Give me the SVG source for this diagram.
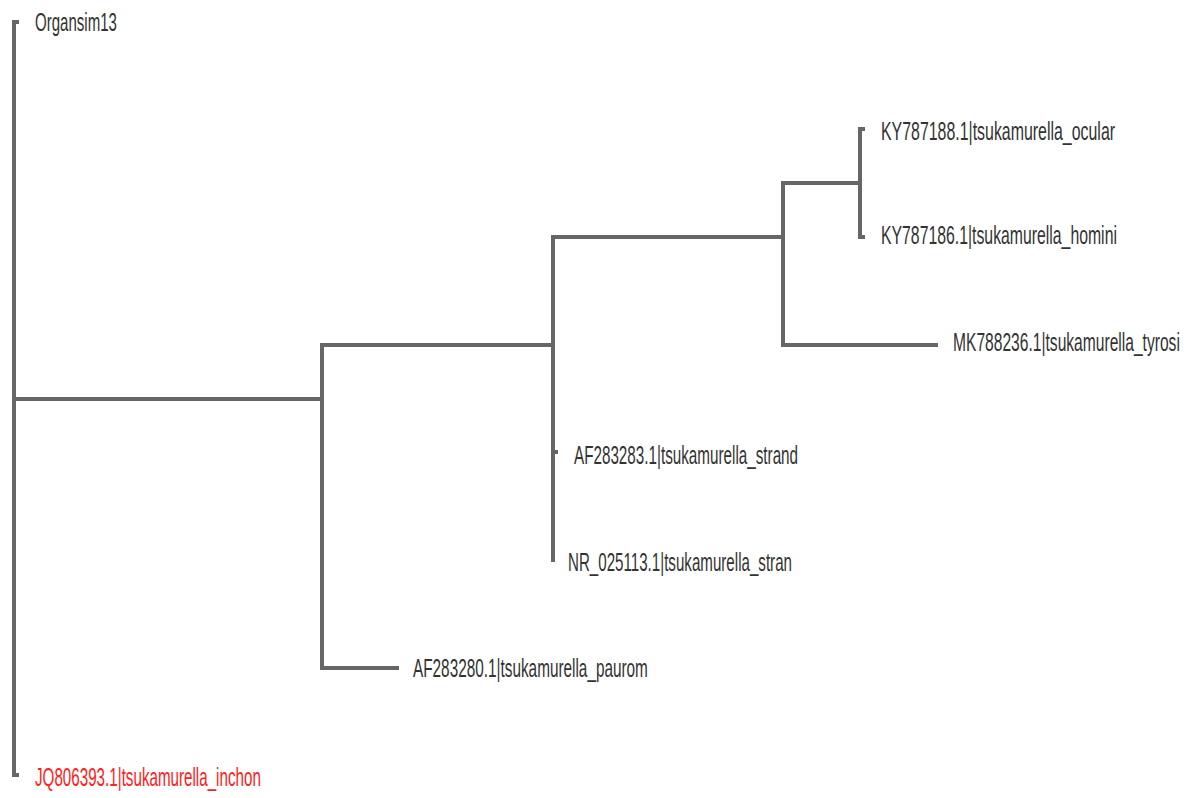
<svg xmlns="http://www.w3.org/2000/svg" width="1202" height="798" viewBox="0 0 1202 798">
<style>
.br{stroke:#666;stroke-width:4;fill:none;stroke-linecap:square}
.lb{font-family:"Liberation Sans",Arial,sans-serif;font-size:26px;fill:#333}
.red{fill:#ff2020}
</style>
<rect width="1202" height="798" fill="#fff"/>
<g id="connectors">
<path class="br" d="M17,22 H14 V775 H17"/>
<path class="br" d="M14,399 H322"/>
<path class="br" d="M322,345 V668 H397"/>
<path class="br" d="M322,345 H553"/>
<path class="br" d="M553,237 V560"/>
<path class="br" d="M553,452 H556"/>
<path class="br" d="M553,237 H783"/>
<path class="br" d="M783,183 V345 H936"/>
<path class="br" d="M783,183 H860"/>
<path class="br" d="M863,129 H860 V237 H863"/>
</g>
<g id="n-organsim13"><text class="lb" transform="translate(35,31) scale(0.579,1)">Organsim13</text></g>
<g id="n-ky787188"><text class="lb" transform="translate(881,140) scale(0.612,1)">KY787188.1|tsukamurella_ocular</text></g>
<g id="n-ky787186"><text class="lb" transform="translate(881,244) scale(0.608,1)">KY787186.1|tsukamurella_homini</text></g>
<g id="n-mk788236"><text class="lb" transform="translate(953,351) scale(0.600,1)">MK788236.1|tsukamurella_tyrosi</text></g>
<g id="n-af283283"><text class="lb" transform="translate(574,464) scale(0.586,1)">AF283283.1|tsukamurella_strand</text></g>
<g id="n-nr025113"><text class="lb" transform="translate(568,571) scale(0.582,1)">NR_025113.1|tsukamurella_stran</text></g>
<g id="n-af283280"><text class="lb" transform="translate(413,677) scale(0.590,1)">AF283280.1|tsukamurella_paurom</text></g>
<g id="n-jq806393"><text class="lb red" transform="translate(35,786) scale(0.584,1)">JQ806393.1|tsukamurella_inchon</text></g>
</svg>
